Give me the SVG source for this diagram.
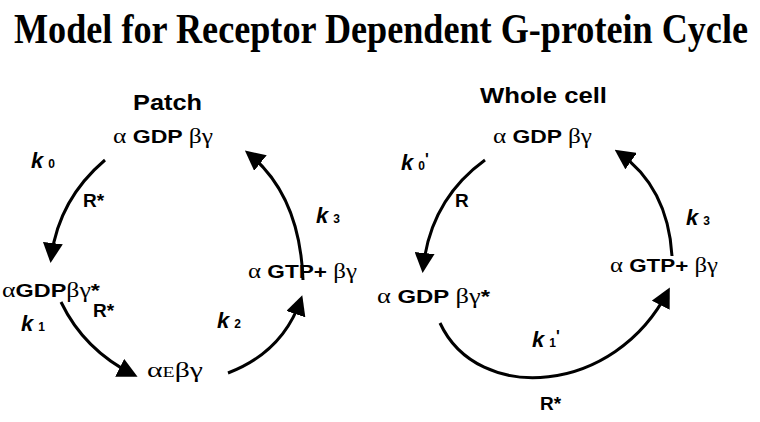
<svg xmlns="http://www.w3.org/2000/svg" width="760" height="422" viewBox="0 0 760 422">
<defs>
<style>
.title{font-family:"Liberation Serif","Times New Roman",serif;font-weight:bold;font-size:34px;fill:#000}
.head{font-family:"Liberation Sans",Arial,sans-serif;font-weight:bold;font-size:22px;fill:#000}
.lab{font-family:"Liberation Sans",Arial,sans-serif;font-weight:bold;font-size:19px;fill:#000}
.gr{font-family:"Liberation Serif","Times New Roman",serif;font-weight:normal;font-size:21px}
.k{font-family:"Liberation Sans",Arial,sans-serif;font-weight:bold;font-style:italic;font-size:22px;fill:#000}
.sub{font-style:normal;font-size:12px}
.pr{font-style:normal;font-size:16px}
.arc{fill:none;stroke:#000;stroke-width:3;marker-end:url(#ah)}
</style>
<marker id="ah" markerUnits="userSpaceOnUse" markerWidth="20" markerHeight="20" viewBox="0 0 20 20" refX="16" refY="10" orient="auto">
<path d="M0,0 L20,10 L0,20 z" fill="#000"/>
</marker>
</defs>
<rect width="760" height="422" fill="#fff"/>
<g id="title" transform="scale(1,1.25)"><text class="title" x="14" y="34.4" textLength="734" lengthAdjust="spacingAndGlyphs">Model for Receptor Dependent G-protein Cycle</text></g>

<g id="patch-title"><text class="head" x="133" y="110" textLength="69" lengthAdjust="spacingAndGlyphs">Patch</text></g>
<g id="p-gdp"><text class="lab" x="113" y="143" textLength="100" lengthAdjust="spacingAndGlyphs"><tspan class="gr">α</tspan> GDP <tspan class="gr">βγ</tspan></text></g>
<g id="p-gdpstar"><text class="lab" x="2" y="297" textLength="98" lengthAdjust="spacingAndGlyphs"><tspan class="gr">α</tspan>GDP<tspan class="gr">βγ</tspan>*</text></g>
<g id="p-e"><text class="lab" x="147" y="377" textLength="56" lengthAdjust="spacingAndGlyphs"><tspan class="gr">α</tspan><tspan class="gr" style="font-size:14px">E</tspan><tspan class="gr">βγ</tspan></text></g>
<g id="p-gtp"><text class="lab" x="248" y="278" textLength="109" lengthAdjust="spacingAndGlyphs"><tspan class="gr">α</tspan> GTP+ <tspan class="gr">βγ</tspan></text></g>

<g id="w-title"><text class="head" x="480" y="103" textLength="127" lengthAdjust="spacingAndGlyphs">Whole cell</text></g>
<g id="w-gdp"><text class="lab" x="493" y="143" textLength="99" lengthAdjust="spacingAndGlyphs"><tspan class="gr">α</tspan> GDP <tspan class="gr">βγ</tspan></text></g>
<g id="w-gdpstar"><text class="lab" x="377" y="303" textLength="113" lengthAdjust="spacingAndGlyphs"><tspan class="gr">α</tspan>  GDP <tspan class="gr">βγ</tspan>*</text></g>
<g id="w-gtp"><text class="lab" x="610" y="272" textLength="108" lengthAdjust="spacingAndGlyphs"><tspan class="gr">α</tspan> GTP+ <tspan class="gr">βγ</tspan></text></g>

<g id="connectors">
<path class="arc" d="M105,160 Q58,200 51,259"/>
<path class="arc" d="M61,302 Q84,350 134,375"/>
<path class="arc" d="M228,373 Q283,352 301,299"/>
<path class="arc" d="M303,280 Q300,195 248,153"/>
<path class="arc" d="M485,160 Q430,200 423,269"/>
<path class="arc" d="M440,323 C478,405 615,395 668,291"/>
<path class="arc" d="M672,256 Q668,187 618,152"/>
</g>

<g id="labels">
<text class="k" x="31" y="168">k<tspan class="sub" dx="5">0</tspan></text>
<text class="lab" x="83" y="207">R*</text>
<text class="k" x="21" y="331">k<tspan class="sub" dx="5">1</tspan></text>
<text class="lab" x="93" y="317">R*</text>
<text class="k" x="217" y="328">k<tspan class="sub" dx="5">2</tspan></text>
<text class="k" x="316" y="223">k<tspan class="sub" dx="5">3</tspan></text>
<text class="k" x="401" y="170">k<tspan class="sub" dx="5">0</tspan><tspan class="pr" dy="-5">'</tspan></text>
<text class="lab" x="455" y="207">R</text>
<text class="k" x="532" y="347">k<tspan class="sub" dx="5">1</tspan><tspan class="pr" dy="-5">'</tspan></text>
<text class="lab" x="540" y="410">R*</text>
<text class="k" x="686" y="225">k<tspan class="sub" dx="5">3</tspan></text>
</g>
</svg>
